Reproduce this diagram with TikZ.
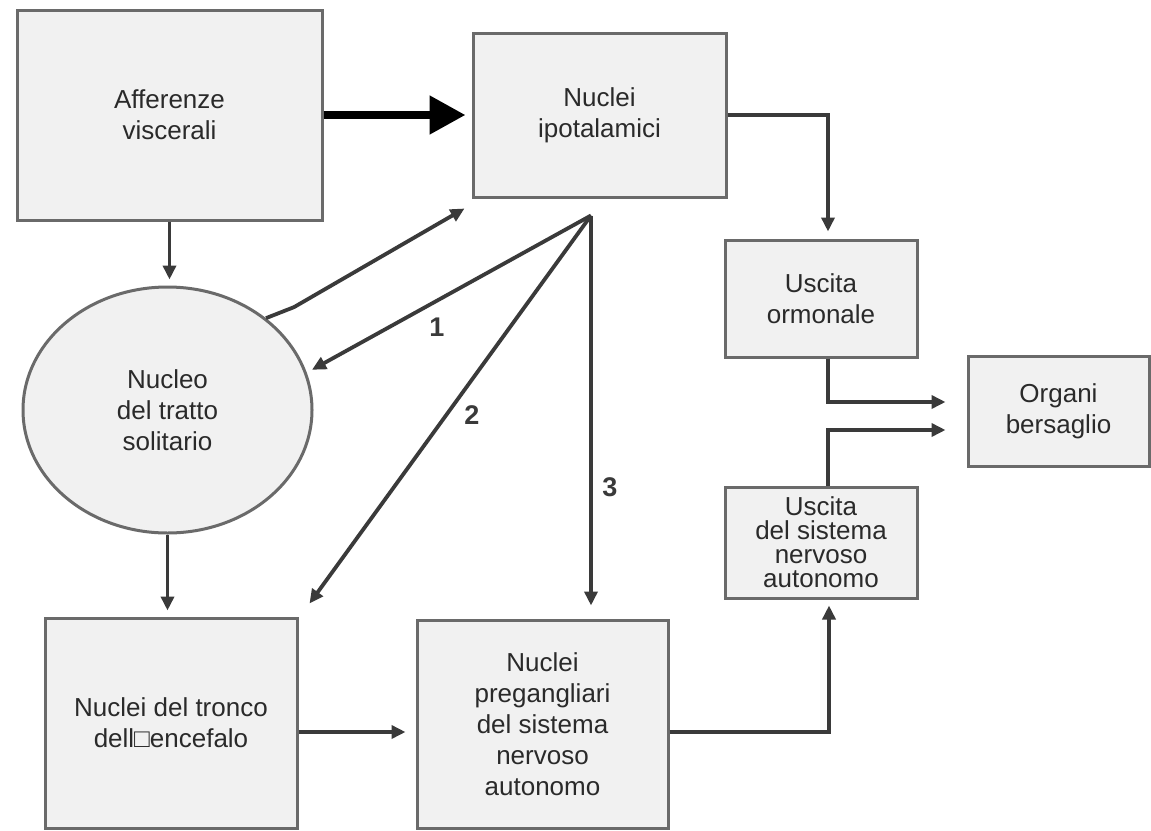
\documentclass[tikz,border=0pt]{standalone}
\usepackage{fontspec}
\setmainfont{Liberation Sans}
\usetikzlibrary{arrows.meta,shapes.geometric,calc}
\definecolor{boxfill}{HTML}{F1F1F1}
\definecolor{boxline}{HTML}{6A6A6A}
\definecolor{arr}{HTML}{3A3A3A}
\definecolor{txt}{HTML}{2A2A2A}
\begin{document}
\begin{tikzpicture}[x=1pt,y=-1pt,
  box/.style={draw=boxline, fill=boxfill, line width=3pt, rectangle, align=center,
    text=txt, font=\fontsize{26}{31}\selectfont, inner sep=0pt},
  oval/.style={draw=boxline, fill=boxfill, line width=3pt, ellipse, align=center,
    text=txt, font=\fontsize{26}{31}\selectfont, inner sep=0pt},
  conn/.style={draw=arr, line width=3.8pt, -{Triangle[length=14pt,width=13pt]}},
  bigconn/.style={draw=black, line width=8pt, -{Triangle[length=36pt,width=37pt]}},
  lbl/.style={text=arr, font=\bfseries\fontsize{27}{27}\selectfont, inner sep=0pt}]
\fill[white] (0,0) rectangle (1151,830);
\useasboundingbox (0,0) rectangle (1151,830);

\node[box, minimum width=305, minimum height=210] (aff) at (169.5,115) {Afferenze\\viscerali};
\node[box, minimum width=253, minimum height=164] (hyp) at (599.5,115) {Nuclei\\ipotalamici};
\node[oval, minimum width=289, minimum height=246] (nts) at (167.5,410) {Nucleo\\del tratto\\solitario};
\node[box, minimum width=252, minimum height=210] (tronco) at (171,723) {Nuclei del tronco\\dell□encefalo};
\node[box, minimum width=251, minimum height=208] (pre) at (542.5,724) {Nuclei\\pregangliari\\del sistema\\nervoso\\autonomo};
\node[box, minimum width=192, minimum height=117] (horm) at (821,298.5) {Uscita\\ormonale};
\node[box, minimum width=192, minimum height=111, font=\fontsize{26}{24}\selectfont] (ans) at (821,542.5) {Uscita\\del sistema\\nervoso\\autonomo};
\node[box, minimum width=181, minimum height=110] (org) at (1058.5,411) {Organi\\bersaglio};

% thick arrow
\draw[bigconn, shorten >=6pt] (aff.east) -- (hyp.west);

% vertical chain on the left
\draw[conn, shorten >=6pt] (aff.south) -- (aff.south |- nts.north);
\draw[conn, shorten >=6pt] (nts.south) -- (nts.south |- tronco.north);
\coordinate (t1) at ($(tronco.east)+(0,9)$);
\draw[conn, shorten >=10pt] (t1) -- (t1 -| pre.west);

% ellipse to hypothalamus
\draw[conn] (nts.43) -- ++(28,-11) -- ($(hyp.south west)+(-7,10)$);

% fan from hypothalamus
\coordinate (apex) at ($(hyp.south)+(-8.5,17)$);
\draw[conn, shorten >=6pt] (apex) -- (nts.15);
\draw[conn] (apex) -- ($(tronco.north east)+(11,-13)$);
\draw[conn, shorten >=13pt] (apex) -- (apex |- pre.north);
\node[lbl] (l1) at (437,327) {1};
\node[lbl] (l2) at (472,415) {2};
\node[lbl] (l3) at (610,487) {3};

% right side
\coordinate (h1) at ($(horm.north)+(7,0)$);
\coordinate (h2) at ($(horm.south)+(7,0)$);
\coordinate (a1) at ($(ans.north)+(7,0)$);
\coordinate (a2) at ($(ans.south)+(8,0)$);
\coordinate (o1) at ($(org.west)+(0,-9)$);
\coordinate (o2) at ($(org.west)+(0,19)$);
\coordinate (p1) at ($(pre.east)+(0,8)$);
\draw[conn, shorten >=7pt] (hyp.east) -| (h1);
\draw[conn, shorten >=21pt] (h2) |- (o1);
\draw[conn, shorten >=21pt] (a1) |- (o2);
\draw[conn, shorten >=6pt] (p1) -| (a2);
\end{tikzpicture}
\end{document}
